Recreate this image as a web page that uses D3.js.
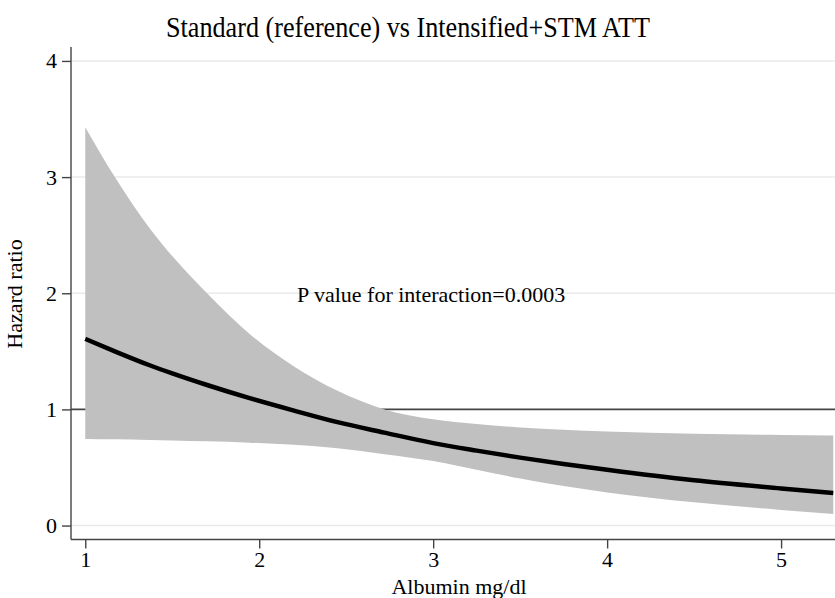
<!DOCTYPE html>
<html>
<head>
<meta charset="utf-8">
<script src="https://cdn.jsdelivr.net/npm/d3@7"></script>
<style>
  body { margin: 0; background: #fff; }
  svg text { font-family: "Liberation Serif", "DejaVu Serif", serif; }
</style>
</head>
<body>
<svg width="835" height="598"></svg>
<script>
// albumin values and the fitted hazard ratio with its confidence band
const albumin = [1.0, 1.17, 1.37, 1.5, 1.7, 1.945, 2.2, 2.45, 2.72, 3.0, 3.25, 3.5, 3.75, 4.0, 4.5, 5.0, 5.3]
const hazard  = [1.607, 1.50, 1.38, 1.31, 1.21, 1.097, 0.99, 0.89, 0.80, 0.71, 0.645, 0.585, 0.53, 0.48, 0.39, 0.32, 0.28]
const upper   = [3.43, 3.0, 2.56, 2.32, 2.0, 1.65, 1.37, 1.16, 1.0, 0.915, 0.875, 0.845, 0.825, 0.81, 0.79, 0.78, 0.775]
const lower   = [0.746, 0.742, 0.737, 0.733, 0.725, 0.714, 0.695, 0.665, 0.615, 0.555, 0.48, 0.405, 0.34, 0.285, 0.20, 0.135, 0.10]
const xTicks = [1, 2, 3, 4, 5]
const yTicks = [0, 1, 2, 3, 4]

const svg = d3.select('svg')
const plotLeft = 71, plotRight = 835, plotTop = 47, plotBottom = 539.5

const x = d3.scaleLinear().domain([0.918, 5.31]).range([plotLeft, plotRight])
const y = d3.scaleLinear().domain([-0.12, 4.12]).range([plotBottom, plotTop])

const rows = albumin.map((a, i) => ({a, hr: hazard[i], lo: lower[i], hi: upper[i]}))

// light grid, reference line at 1 drawn dark instead
svg.append('g')
  .selectAll('line')
  .data(yTicks.filter(t => t !== 1))
  .enter().append('line')
    .attr('x1', plotLeft).attr('x2', plotRight)
    .attr('y1', d => y(d)).attr('y2', d => y(d))
    .attr('stroke', '#eaeaea')
    .attr('stroke-width', 1.5)

svg.append('line')
  .attr('x1', plotLeft).attr('x2', plotRight)
  .attr('y1', y(1)).attr('y2', y(1))
  .attr('stroke', '#444')
  .attr('stroke-width', 1.6)

// confidence band
svg.append('path')
  .datum(rows)
  .attr('fill', '#c0c0c0')
  .attr('d', d3.area()
    .curve(d3.curveMonotoneX)
    .x(d => x(d.a))
    .y0(d => y(d.lo))
    .y1(d => y(d.hi)))

// fitted curve
svg.append('path')
  .datum(rows)
  .attr('fill', 'none')
  .attr('stroke', '#000')
  .attr('stroke-width', 4.5)
  .attr('d', d3.line()
    .curve(d3.curveMonotoneX)
    .x(d => x(d.a))
    .y(d => y(d.hr)))

// axes
const xAxis = svg.append('g')
  .attr('transform', 'translate(0,' + plotBottom + ')')
  .call(d3.axisBottom(x).tickValues(xTicks).tickSize(9).tickPadding(3).tickFormat(d3.format('d')))
xAxis.select('.domain').attr('d', 'M' + plotLeft + ',0H' + plotRight)

const yAxis = svg.append('g')
  .attr('transform', 'translate(' + plotLeft + ',0)')
  .call(d3.axisLeft(y).tickValues(yTicks).tickSize(9).tickPadding(5).tickFormat(d3.format('d')))
yAxis.select('.domain').attr('d', 'M0,' + plotTop + 'V' + plotBottom)

svg.selectAll('g').attr('font-family', null).attr('font-size', null)
svg.selectAll('.domain, .tick line').attr('stroke', '#444').attr('stroke-width', 1.4)
svg.selectAll('.tick text')
  .attr('fill', '#000')
  .style('font-size', '22px')

// titles and labels
svg.append('text')
  .attr('x', 166).attr('y', 37)
  .attr('textLength', 484)
  .attr('lengthAdjust', 'spacingAndGlyphs')
  .style('font-size', '29px')
  .text('Standard (reference) vs Intensified+STM ATT')

svg.append('text')
  .attr('x', 459).attr('y', 594)
  .attr('text-anchor', 'middle')
  .style('font-size', '22px')
  .text('Albumin mg/dl')

svg.append('text')
  .attr('transform', 'translate(22,294) rotate(-90)')
  .attr('text-anchor', 'middle')
  .style('font-size', '22px')
  .text('Hazard ratio')

svg.append('text')
  .attr('x', 297).attr('y', 302)
  .style('font-size', '22px')
  .text('P value for interaction=0.0003')
</script>
</body>
</html>
